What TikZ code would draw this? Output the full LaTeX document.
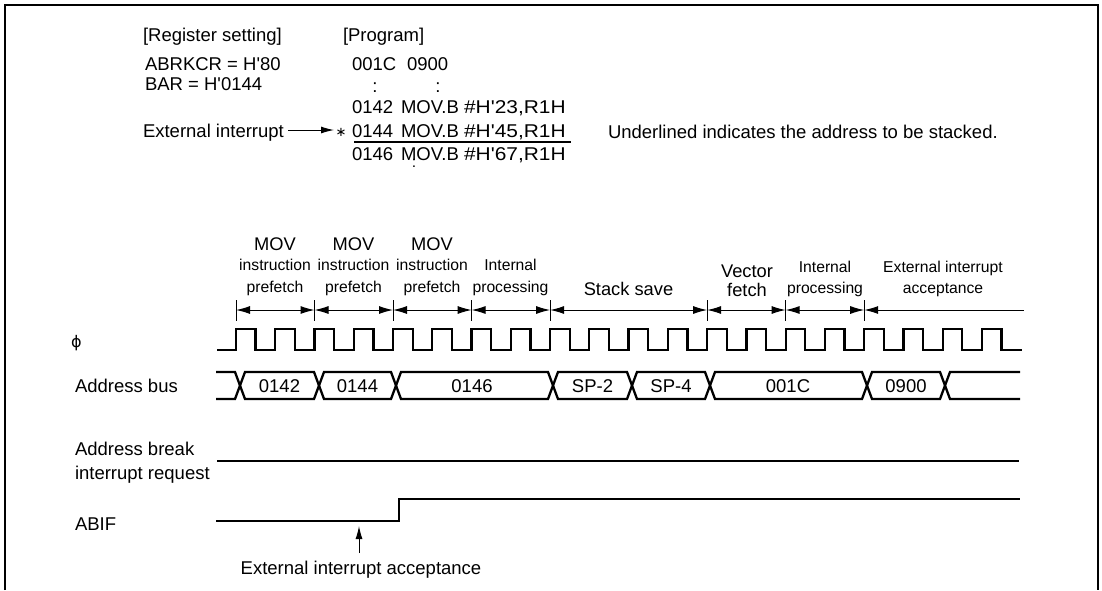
\documentclass[tikz,border=0pt]{standalone}
\usepackage{fontspec}
\usepackage{graphicx}
\setmainfont{Liberation Sans}
\newfontfamily\djv{DejaVu Sans}
\usetikzlibrary{arrows.meta}
\newcommand\fsMain{\fontsize{18.5}{22}\selectfont}
\newcommand\fsSm{\fontsize{15.7}{19}\selectfont}
\newcommand\fsBig{\fontsize{18.3}{22}\selectfont}
\newcommand\aps{\textquotesingle}
\newcommand\wideop[1]{\scalebox{1.13}[1]{#1}}
\begin{document}
\begin{tikzpicture}[x=1pt,y=-1pt,
  txt/.style={inner sep=0pt, outer sep=0pt, anchor=base west, font=\fsMain},
  ctxt/.style={inner sep=0pt, outer sep=0pt, anchor=base, font=\fsMain},
  bigl/.style={inner sep=0pt, outer sep=0pt, anchor=base, font=\fsBig},
  sml/.style={inner sep=0pt, outer sep=0pt, anchor=base, font=\fsSm},
  sig/.style={line width=2.3pt, line join=miter},
  dim/.style={line width=1pt},
  both/.style={{Latex[length=14pt,width=8pt]}-{Latex[length=14pt,width=8pt]}},
  leftonly/.style={{Latex[length=14pt,width=8pt]}-},
  toarrow/.style={-{Latex[length=13pt,width=7pt]}}]
\useasboundingbox (0,0) rectangle (1102,590);
% frame
\draw[line width=2.2pt] (5,590) -- (5,5) -- (1098,5) -- (1098,590);

% ---- top program text
\node[txt] (regset) at (143,41) {[Register setting]};
\node[txt] (prog) at (343,41) {[Program]};
\node[txt] (abrkcr) at (145,70) {ABRKCR = H\aps80};
\node[txt] (bar) at (145,90) {BAR = H\aps0144};
\node[txt] (a001c) at (352,70) {001C};
\node[txt] (v0900) at (407,70) {0900};
\node[ctxt] (c1) at (375,92) {:};
\node[ctxt] (c2) at (438,92) {:};
\node[txt] (a0142) at (352,113) {0142};
\node[txt] (i0142) at (401,113) {MOV.B \wideop{\#H\aps23,R1H}};
\node[txt] (a0144) at (352,137) {0144};
\node[txt] (i0144) at (401,137) {MOV.B \wideop{\#H\aps45,R1H}};
\node[txt] (a0146) at (352,160) {0146};
\node[txt] (i0146) at (401,160) {MOV.B \wideop{\#H\aps67,R1H}};
\node[sml] (c3) at (414,167) {:};
\draw[line width=1.3pt] (354,142) -- (571,142);
\node[txt] (extint) at (143,137) {External interrupt};
\coordinate (ea) at (288,130);
\coordinate (eb) at (334,130);
\draw[dim,toarrow] (ea) -- (eb);
\node[inner sep=0pt, font=\djv\fontsize{13}{14}\selectfont] (star) at (341,132) {∗};
\node[txt] (note) at (608,138) {Underlined indicates the address to be stacked.};

% ---- phase labels
\node[bigl] (m1) at (275,250) {MOV};
\node[sml] (m1b) at (275,270) {instruction};
\node[sml] (m1c) at (275,292) {prefetch};
\node[bigl] (m2) at (353.5,250) {MOV};
\node[sml] (m2b) at (353.5,270) {instruction};
\node[sml] (m2c) at (353.5,292) {prefetch};
\node[bigl] (m3) at (432,250) {MOV};
\node[sml] (m3b) at (432,270) {instruction};
\node[sml] (m3c) at (432,292) {prefetch};
\node[sml] (p1a) at (510.5,270) {Internal};
\node[sml] (p1b) at (510.5,292) {processing};
\node[bigl] (ss) at (628.5,295) {Stack save};
\node[bigl] (vf1) at (747,277) {Vector};
\node[bigl] (vf2) at (747,296) {fetch};
\node[sml] (p2a) at (825,272) {Internal};
\node[sml] (p2b) at (825,293) {processing};
\node[sml] (ex1) at (943,272) {External interrupt};
\node[sml] (ex2) at (943,293) {acceptance};

% ---- dimension arrows
\foreach \x/\n in {236/0, 314.5/1, 393/2, 471.6/3, 550.1/4, 707.1/5, 785.6/6, 864.2/7} {
  \coordinate (t\n) at (\x,310);
  \draw[dim] (\x,300) -- (\x,321);
}
\coordinate (tend) at (1024,310);
\foreach \a/\b in {0/1,1/2,2/3,3/4,4/5,5/6,6/7}
  \draw[dim,both] (t\a) -- (t\b);
\draw[dim,leftonly] (t7) -- (tend);

% ---- signal names
\node[inner sep=0pt, anchor=base west, font=\djv\fontsize{16}{18}\selectfont] (phi) at (71,347) {ϕ};
\node[txt] (abus) at (75,392) {Address bus};
\node[txt] (abrk1) at (75,455) {Address break};
\node[txt] (abrk2) at (75,479) {interrupt request};
\node[txt] (abif) at (75,530) {ABIF};

% ---- clock
\draw[sig] (217,350) \foreach \i in {0,...,19}{ -- ({236+39.26*\i},350) -- ++(0,-21) -- ++(19.63,0) -- ++(0,21)} -- (1022,350);

% ---- address bus
\draw[sig] (216,372) -- (235,372) -- (240,385.5) -- (235,399) -- (216,399);
\foreach \a/\b in {240/319, 319/396, 396/553, 553/632, 632/710, 710/867, 867/945}
  \draw[sig] (\a,385.5) -- ({\a+5},372) -- ({\b-5},372) -- (\b,385.5) -- ({\b-5},399) -- ({\a+5},399) -- cycle;
\draw[sig] (1020,372) -- (950,372) -- (945,385.5) -- (950,399) -- (1020,399);
\node[ctxt] (b1) at (279.5,392) {0142};
\node[ctxt] (b2) at (357.5,392) {0144};
\node[ctxt] (b3) at (472,392) {0146};
\node[ctxt] (b4) at (592.5,392) {SP-2};
\node[ctxt] (b5) at (671,392) {SP-4};
\node[ctxt] (b6) at (788,392) {001C};
\node[ctxt] (b7) at (906,392) {0900};

% ---- address break interrupt request
\draw[sig] (217,461) -- (1019,461);

% ---- ABIF
\draw[sig] (216,521) -- (399,521) -- (399,499) -- (1020,499);

% ---- acceptance arrow
\coordinate (ua) at (359,553);
\coordinate (ub) at (359,526);
\draw[dim,toarrow] (ua) -- (ub);
\node[ctxt] (acc) at (361,574) {External interrupt acceptance};
\end{tikzpicture}
\end{document}
